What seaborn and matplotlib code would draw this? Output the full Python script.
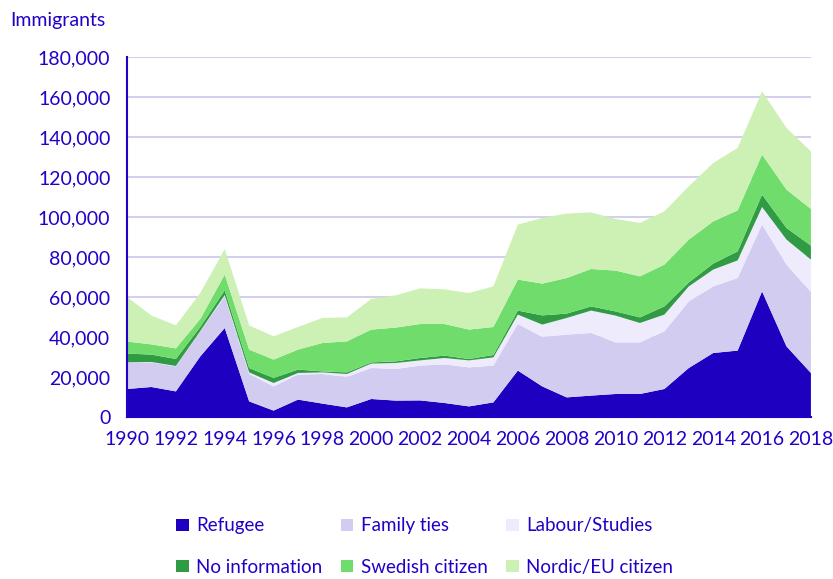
import numpy as np
import pandas as pd
import matplotlib
matplotlib.use("Agg")
import matplotlib.pyplot as plt
from matplotlib.ticker import FuncFormatter, MultipleLocator
from matplotlib.patches import Patch
import seaborn as sns

years = list(range(1990, 2019))

refugee = [14000, 15000, 12800, 30300, 44500, 7800, 3200, 8700, 6700, 4800,
           9000, 8200, 8300, 7000, 5300, 7300, 23200, 15300, 9800, 10700,
           11500, 11500, 14000, 24500, 32000, 33200, 62800, 35300, 22000]
family_ties = [13000, 12300, 12500, 12500, 15800, 13700, 12100, 12500, 14800, 15200,
               15500, 15800, 17400, 19300, 19500, 18400, 23300, 24700, 31400, 31300,
               25800, 25800, 28800, 33300, 33300, 36300, 33400, 40900, 40500]
labour = [300, 200, 200, 200, 700, 800, 1700, 800, 800, 1500,
          2200, 3000, 2600, 3200, 3500, 4100, 4700, 6200, 8300, 11200,
          13400, 9700, 8400, 7500, 8400, 8800, 8800, 12500, 16200]
no_info = [4400, 3700, 3500, 2000, 2300, 2200, 2500, 1700, 500, 800,
           600, 800, 1200, 1200, 700, 1200, 2000, 4600, 2200, 2100,
           2100, 2800, 4100, 2000, 3000, 4500, 6200, 5800, 7000]
swedish = [6000, 5100, 5300, 4000, 7900, 9200, 9200, 10000, 14200, 15500,
           16400, 16900, 17000, 15800, 14700, 14000, 15500, 15900, 17800, 18700,
           20400, 20500, 20900, 21400, 21100, 20500, 20000, 19200, 18300]
nordic_eu = [22300, 14400, 11500, 13000, 12800, 12100, 11600, 11300, 12500, 12000,
             15300, 16100, 17800, 17300, 18300, 20300, 27500, 32800, 32200, 28300,
             25800, 26700, 26600, 26600, 29200, 31200, 31600, 30800, 28800]

labels = ["Refugee", "Family ties", "Labour/Studies",
          "No information", "Swedish citizen", "Nordic/EU citizen"]
colors = ["#1E00C0", "#D2CCF0", "#EDEBFC", "#319B44", "#70DC6C", "#CDF0B5"]

df = pd.DataFrame({
    "Year": years,
    "Refugee": refugee,
    "Family ties": family_ties,
    "Labour/Studies": labour,
    "No information": no_info,
    "Swedish citizen": swedish,
    "Nordic/EU citizen": nordic_eu,
})

sns.set_theme(style="white")
plt.rcParams["font.family"] = ["Lato", "DejaVu Sans"]
text_col = "#2200C8"

fig = plt.figure(figsize=(8.33, 5.79), dpi=100)
ax = fig.add_axes([0.1525, 0.2798, 0.821, 0.6218])

ax.stackplot(df["Year"], [df[c] for c in labels], colors=colors,
             linewidth=0, edgecolor="none")

ax.set_xlim(1990, 2018)
ax.set_ylim(0, 180000)
ax.xaxis.set_major_locator(MultipleLocator(2))
ax.xaxis.set_minor_locator(MultipleLocator(1))
ax.yaxis.set_major_locator(MultipleLocator(20000))
ax.yaxis.set_major_formatter(FuncFormatter(lambda v, p: f"{int(v):,}"))

ax.grid(axis="y", color="#D3D0EE", linewidth=1.5)
ax.set_axisbelow(True)
for s in ["top", "right"]:
    ax.spines[s].set_visible(False)
for s in ["left", "bottom"]:
    ax.spines[s].set_color(text_col)
    ax.spines[s].set_linewidth(1.5)

ax.tick_params(axis="both", which="both", colors=text_col, labelcolor=text_col,
               labelsize=14, direction="out")
ax.tick_params(axis="y", length=6, width=1.5, pad=6)
ax.tick_params(axis="x", which="major", length=6, width=1.5, pad=4)
ax.tick_params(axis="x", which="minor", length=6, width=1.5)
ax.set_xlabel("")
ax.set_ylabel("")

fig.text(0.012, 0.965, "Immigrants", color=text_col, fontsize=14, va="center")

# legend: 3 columns, filled column-wise
order = [0, 3, 1, 4, 2, 5]
handles = [Patch(facecolor=colors[i], edgecolor="none", label=labels[i]) for i in order]
fig.legend(handles=handles, loc="center", bbox_to_anchor=(0.51, 0.056), ncol=3,
           frameon=False, fontsize=13.5, labelcolor=text_col,
           handlelength=0.65, handleheight=0.65, handletextpad=0.4,
           columnspacing=1.0, labelspacing=1.3)

fig.savefig("out.png", dpi=100)
